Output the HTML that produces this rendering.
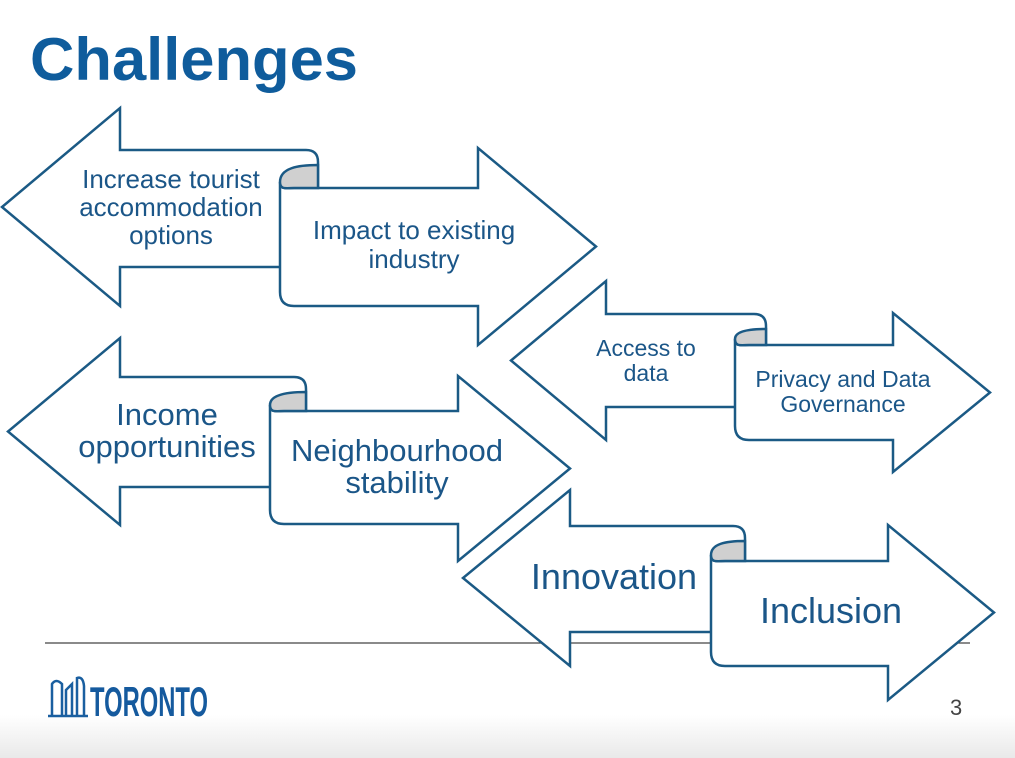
<!DOCTYPE html>
<html><head><meta charset="utf-8"><style>
html,body{margin:0;padding:0}
body{width:1015px;height:758px;overflow:hidden;background:#fff;position:relative;font-family:"Liberation Sans",sans-serif}
.bg{position:absolute;left:0;top:715px;width:1015px;height:43px;background:linear-gradient(#fff,#e9e9e9)}
svg{position:absolute;left:0;top:0}
</style></head><body>
<div class="bg"></div>
<svg id="s" width="1015" height="758" viewBox="0 0 1015 758">
<text x="30" y="80" font-family="Liberation Sans" font-weight="bold" font-size="60" fill="#0f5c9c" textLength="328" lengthAdjust="spacingAndGlyphs">Challenges</text>
<line x1="45" y1="643" x2="970" y2="643" stroke="#444" stroke-width="1.2"/>
<text x="950" y="715" font-family="Liberation Sans" font-size="22" fill="#444">3</text>
<g fill="none" stroke="#1a5fa0" stroke-width="2.5">
<path d="M52 715 L52 684 Q56 678 62 684 L62 715"/>
<path d="M66 715 L66 690 L72 684 L72 715"/>
<path d="M77 715 L77 678 Q83 676 84 686 L84 715"/>
<line x1="48" y1="716" x2="88" y2="716"/>
</g>
<text x="90" y="716" font-family="Liberation Sans Narrow, Liberation Sans" font-weight="bold" font-size="42" fill="#155a9e" textLength="118" lengthAdjust="spacingAndGlyphs">TORONTO</text>
<g id="g"></g>
<g id="t" font-family="Liberation Sans" fill="#1b5688" text-anchor="middle"></g>
</svg>
<script>
var C='#1b5a85';
var groups=[
 {L:2,hl:120,ht:108,hb:306,st:150,sb:267,jx:280,cx:318,rt:188,rb:306,hr:478,rht:148,rhb:345,R:596},
 {L:8,hl:120,ht:338,hb:525,st:377,sb:487,jx:270,cx:306,rt:411,rb:524,hr:458,rht:376,rhb:561,R:570},
 {L:511,hl:606,ht:281,hb:440,st:314,sb:407,jx:735,cx:766,rt:345,rb:440,hr:893,rht:313,rhb:472,R:990},
 {L:463,hl:570,ht:490,hb:666,st:526,sb:632,jx:711,cx:745,rt:561,rb:666,hr:888,rht:525,rhb:700,R:994}
];
var h='';
groups.forEach(function(g){
 var cyl=(g.ht+g.hb)/2, cyr=(g.rht+g.rhb)/2;
 var lf='M'+g.jx+','+g.sb+' L'+g.hl+','+g.sb+' L'+g.hl+','+g.hb+' L'+g.L+','+cyl+' L'+g.hl+','+g.ht+' L'+g.hl+','+g.st+' L'+(g.cx-12)+','+g.st+' Q'+g.cx+','+g.st+' '+g.cx+','+(g.st+12)+' L'+g.cx+','+g.rt;
 h+='<path d="'+lf+' L'+g.jx+','+g.rt+' Z" fill="#fff"/>';
 h+='<path d="'+lf+'" fill="none" stroke="'+C+'" stroke-width="2.5" stroke-linejoin="miter"/>';
 var rp='M'+g.jx+','+(g.rt-6)+' C'+g.jx+','+(g.rt+2)+' '+(g.jx+6)+','+g.rt+' '+(g.jx+14)+','+g.rt+' L'+g.hr+','+g.rt+' L'+g.hr+','+g.rht+' L'+g.R+','+cyr+' L'+g.hr+','+g.rhb+' L'+g.hr+','+g.rb+' L'+(g.jx+14)+','+g.rb+' Q'+g.jx+','+g.rb+' '+g.jx+','+(g.rb-14)+' Z';
 h+='<path d="'+rp+'" fill="#fff" stroke="'+C+'" stroke-width="2.5"/>';
 var cu='M'+g.cx+','+(g.st+15)+' C'+(g.cx-20)+','+(g.st+15)+' '+g.jx+','+(g.st+18)+' '+g.jx+','+(g.rt-6)+' C'+g.jx+','+(g.rt+2)+' '+(g.jx+6)+','+g.rt+' '+(g.jx+14)+','+g.rt+' L'+g.cx+','+g.rt+' Z';
 h+='<path d="'+cu+'" fill="#d0d0d0" stroke="'+C+'" stroke-width="2.5"/>';
});
document.getElementById('g').innerHTML=h;
var T=[
 [171,188,26,'Increase tourist'],[171,216,26,'accommodation'],[171,244,26,'options'],
 [414,239,26,'Impact to existing'],[414,268,26,'industry'],
 [167,425,31,'Income'],[167,457,31,'opportunities'],
 [397,461,31,'Neighbourhood'],[397,493,31,'stability'],
 [646,356,23,'Access to'],[646,381,23,'data'],
 [843,387,23,'Privacy and Data'],[843,412,23,'Governance'],
 [614,589,36,'Innovation'],[831,623,36,'Inclusion']
];
var t='';
T.forEach(function(a){t+='<text x="'+a[0]+'" y="'+a[1]+'" font-size="'+a[2]+'">'+a[3]+'</text>';});
document.getElementById('t').innerHTML=t;
</script>
</body></html>
